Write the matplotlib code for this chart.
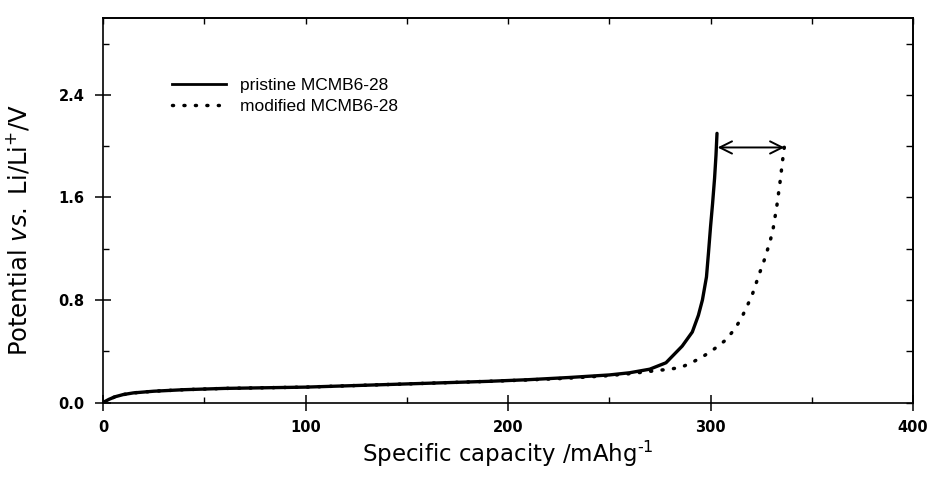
import numpy as np
import matplotlib
matplotlib.use('Agg')
import matplotlib.pyplot as plt
from matplotlib.ticker import MultipleLocator
from matplotlib.lines import Line2D

plt.rcParams['font.family'] = ['Liberation Sans', 'DejaVu Sans']
plt.rcParams['mathtext.fontset'] = 'custom'
plt.rcParams['mathtext.rm'] = 'DejaVu Sans'
plt.rcParams['mathtext.it'] = 'DejaVu Sans:italic'

# pristine MCMB6-28 (capacity mAh/g, potential V)
pristine_cap = [0, 3, 6, 10, 15, 25, 40, 60, 80, 100, 130, 160, 190, 210, 230, 250,
                260, 270, 278, 286, 291, 294, 296, 298, 299, 300, 301, 302, 302.7, 303.2]
pristine_pot = [0.0, 0.025, 0.045, 0.062, 0.075, 0.088, 0.100, 0.110, 0.115, 0.120, 0.135,
                0.150, 0.165, 0.178, 0.195, 0.215, 0.232, 0.26, 0.31, 0.44, 0.55, 0.68,
                0.80, 0.98, 1.17, 1.37, 1.55, 1.75, 1.93, 2.10]

# modified MCMB6-28
modified_cap = [0, 3, 6, 10, 15, 25, 40, 60, 80, 100, 130, 160, 190, 210, 230, 250,
                260, 270, 275, 280, 285.5, 290.6, 296.4, 301.6, 307.4, 312, 315.3, 318,
                320.5, 322.4, 324.3, 326.3, 328.1, 329.7, 331, 332.8, 334.3, 335.6, 336.5]
modified_pot = [0.0, 0.025, 0.045, 0.062, 0.075, 0.088, 0.100, 0.110, 0.115, 0.120, 0.135,
                0.150, 0.165, 0.176, 0.19, 0.21, 0.225, 0.243, 0.252, 0.26, 0.275, 0.31,
                0.36, 0.415, 0.486, 0.574, 0.66, 0.75, 0.836, 0.925, 1.013, 1.10, 1.19,
                1.276, 1.364, 1.54, 1.717, 1.89, 2.0]

labels = ['pristine MCMB6-28', 'modified MCMB6-28']

# capacity gain arrow
arrow_y = 1.99
arrow_x0 = 303.5
arrow_x1 = 336.5

fig = plt.figure(figsize=(9.33, 4.87), dpi=100)
ax = fig.add_axes([0.1104, 0.1735, 0.8682, 0.7895])

dot_style = (0, (0.3, 3.0))
ax.plot(pristine_cap, pristine_pot, color='black', lw=2.4, solid_capstyle='round')
ax.plot(modified_cap, modified_pot, color='black', lw=2.5, linestyle=dot_style,
        dash_capstyle='round')

ax.annotate('', xy=(arrow_x1, arrow_y), xytext=(arrow_x0, arrow_y),
            arrowprops=dict(arrowstyle='<->', lw=1.4, color='black',
                            mutation_scale=22, shrinkA=0, shrinkB=0))

ax.set_xlim(0, 400)
ax.set_ylim(0, 3.0)
ax.xaxis.set_major_locator(MultipleLocator(100))
ax.xaxis.set_minor_locator(MultipleLocator(50))
ax.yaxis.set_major_locator(MultipleLocator(0.8))
ax.yaxis.set_minor_locator(MultipleLocator(0.4))
ax.yaxis.set_major_formatter(plt.FormatStrFormatter('%.1f'))

ax.tick_params(which='major', direction='inout', length=11, width=1.1, pad=8)
ax.tick_params(which='minor', direction='in', length=4, width=1.0)
ax.tick_params(axis='x', which='major', pad=7)
for lab in ax.get_xticklabels() + ax.get_yticklabels():
    lab.set_family('DejaVu Sans')
    lab.set_fontweight('bold')
    lab.set_fontsize(10.5)

for s in ax.spines.values():
    s.set_linewidth(1.2)

top = ax.secondary_xaxis('top')
top.xaxis.set_major_locator(MultipleLocator(50))
top.tick_params(direction='in', length=4, width=1.0, labeltop=False)
top.spines['top'].set_linewidth(1.2)
right = ax.secondary_yaxis('right')
right.yaxis.set_major_locator(MultipleLocator(0.4))
right.tick_params(direction='in', length=5, width=1.0, labelright=False)
right.spines['right'].set_linewidth(1.2)

ax.set_xlabel('Specific capacity /mAhg$^{\\text{-1}}$', fontsize=16.5, family='DejaVu Sans')
ax.set_ylabel(r'Potential $\it{vs.}$ Li/Li$^{+}$/V', fontsize=17.5, family='DejaVu Sans')
ax.xaxis.set_label_coords(0.5, -0.095)
ax.yaxis.set_label_coords(-0.088, 0.45)

handles = [Line2D([], [], color='black', lw=2.0),
           Line2D([], [], color='black', lw=2.5, linestyle=dot_style, dash_capstyle='round')]
ax.legend(handles, labels, loc='upper left', bbox_to_anchor=(0.085, 0.845),
          frameon=False, fontsize=12.5, handlelength=3.1, handletextpad=0.8,
          borderaxespad=0, borderpad=0, labelspacing=0.35)

fig.savefig('out.png', dpi=100)
